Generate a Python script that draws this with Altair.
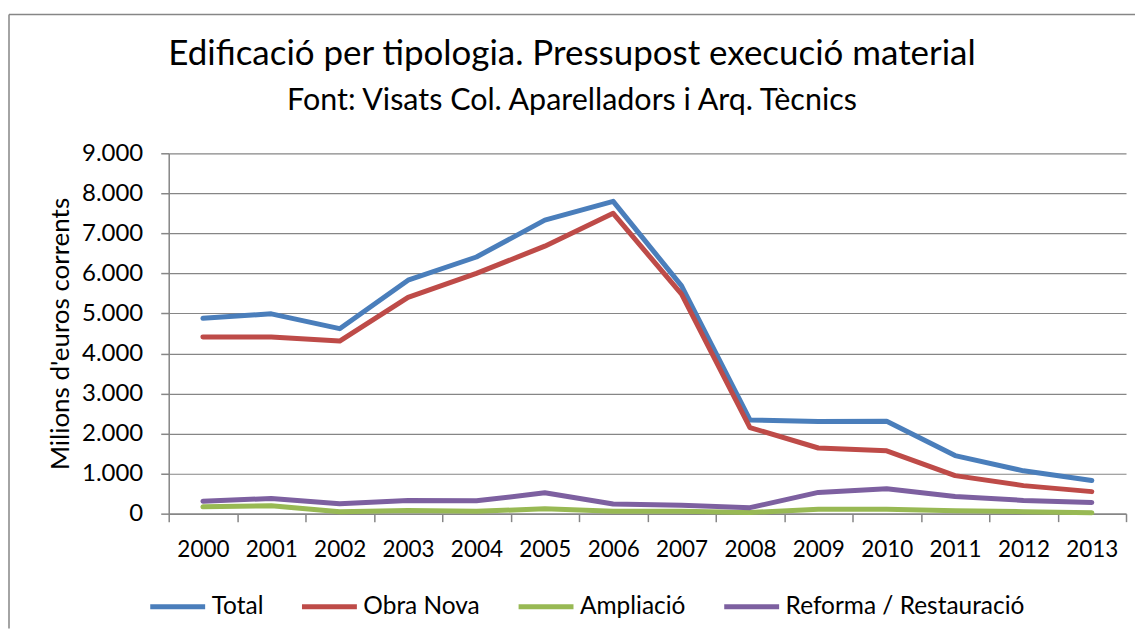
import altair as alt
import pandas as pd

years = [str(y) for y in range(2000, 2014)]
total = [4880, 4990, 4620, 5830, 6410, 7330, 7800, 5690, 2340, 2300, 2310, 1450, 1070, 830]
obra_nova = [4410, 4410, 4310, 5400, 6000, 6680, 7500, 5480, 2150, 1640, 1570, 950, 700, 550]
ampliacio = [170, 200, 50, 80, 60, 120, 60, 60, 30, 110, 110, 70, 50, 20]
reforma = [310, 380, 250, 330, 320, 520, 240, 210, 150, 530, 620, 430, 330, 280]
series = ["Total", "Obra Nova", "Ampliació", "Reforma / Restauració"]
colors = ["#4A7EBB", "#BE4B48", "#98B954", "#7D60A0"]
y_ticks = [0, 1000, 2000, 3000, 4000, 5000, 6000, 7000, 8000, 9000]

rows = []
for name, vals in zip(series, [total, obra_nova, ampliacio, reforma]):
    for yr, v in zip(years, vals):
        rows.append({"Any": yr, "Valor": v, "Serie": name})
df = pd.DataFrame(rows)

FONT = "Lato"
W, H = 959, 361

lines = alt.Chart(df).mark_line(strokeWidth=5, strokeCap="round", strokeJoin="round").encode(
    x=alt.X("Any:N", sort=years,
            scale=alt.Scale(type="band", paddingInner=0, paddingOuter=0),
            axis=alt.Axis(title=None, labelAngle=0, tickBand="extent", grid=False,
                          tickSize=8, labelPadding=17, labelFontSize=22.5,
                          domainColor="#868686", tickColor="#868686",
                          domainWidth=1.5, tickWidth=1.5, labelColor="#000000")),
    y=alt.Y("Valor:Q",
            scale=alt.Scale(domain=[0, 9000], nice=False),
            axis=alt.Axis(title="Milions d'euros corrents", values=y_ticks,
                          labelExpr="replace(format(datum.value, ','), ',', '.')",
                          tickSize=8, labelPadding=18, labelFontSize=24,
                          titleFontSize=26, titleFontWeight="normal", titlePadding=8,
                          titleColor="#000000", labelColor="#000000",
                          gridColor="#868686", gridWidth=1.2,
                          domainColor="#868686", tickColor="#868686",
                          domainWidth=1.5, tickWidth=1.5)),
    color=alt.Color("Serie:N", sort=series,
                    scale=alt.Scale(domain=series, range=colors),
                    legend=alt.Legend(title=None, orient="none", direction="horizontal",
                                      legendX=-21, legendY=424,
                                      symbolType="stroke", symbolSize=3025,
                                      symbolStrokeWidth=5, labelFontSize=24.5,
                                      labelOffset=4, columnPadding=28, padding=0,
                                      labelLimit=0, labelColor="#000000")),
    detail="Serie:N",
)

frame_df = pd.DataFrame({"k": [0]})
top_rule = alt.Chart(frame_df).mark_rule(color="#868686", strokeWidth=1.5).encode(
    x=alt.value(-160), x2=alt.value(968), y=alt.value(-139)
)
left_rule = alt.Chart(frame_df).mark_rule(color="#868686", strokeWidth=1.5).encode(
    x=alt.value(-160), y=alt.value(-139), y2=alt.value(476)
)

chart = alt.layer(top_rule, left_rule, lines).properties(
    width=W, height=H,
    padding={"left": 0, "top": 5, "right": 0, "bottom": 0},
    title=alt.TitleParams(
        text="Edificació per tipologia. Pressupost execució material",
        subtitle="Font: Visats Col. Aparelladors i Arq. Tècnics",
        anchor="middle", frame="bounds", offset=-103,
        fontSize=35, subtitleFontSize=30.5, subtitlePadding=14,
        font=FONT, subtitleFont=FONT, fontWeight="normal",
        color="#000000", subtitleColor="#000000",
    ),
).configure(font=FONT).configure_view(stroke=None).configure_axis(
    labelFont=FONT, titleFont=FONT
).configure_legend(labelFont=FONT)

chart.save("out.html", embed_options={"renderer": "svg", "actions": False})
